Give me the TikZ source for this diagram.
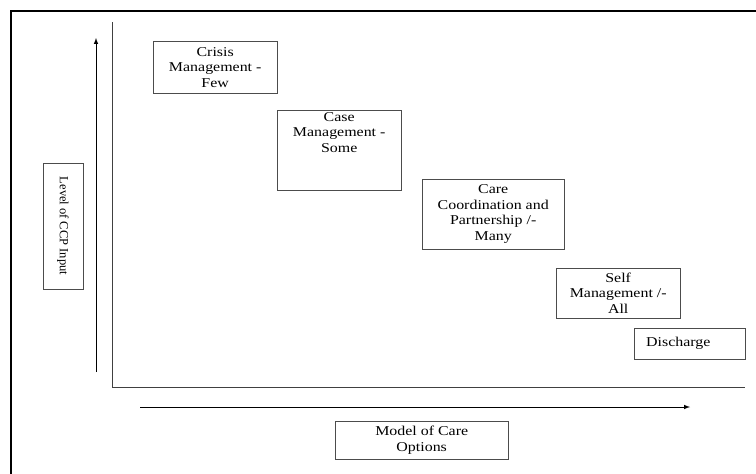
\documentclass[tikz,border=0pt]{standalone}
\usepackage{fontspec}
\setmainfont[FakeStretch=1.18]{Liberation Serif}
\newfontfamily\axisfont{Liberation Serif}

\begin{document}
\begin{tikzpicture}
  [x=1pt,y=-1pt,every node/.style={draw=black!70,align=center,anchor=north west,inner sep=2pt,font=\fontsize{13.5}{15.5}\selectfont}]
  \useasboundingbox (0,0) rectangle (756,474);
  \draw[line width=2.8pt] (11,474) -- (11,11) -- (756,11);

  \node[minimum width=124pt,minimum height=52pt] (crisis) at (153,41) {Crisis\\Management -\\Few};
  \node[minimum width=124pt,minimum height=80pt,text depth=36pt] (case) at (277,110) {Case\\Management -\\Some};
  \node[minimum width=142pt,minimum height=70pt] (care) at (422,179) {Care\\Coordination and\\Partnership /-\\Many};
  \node[minimum width=124pt,minimum height=50pt] (self) at (556,268) {Self\\Management /-\\All};
  \node[text width=87pt,align=left,inner xsep=12pt,minimum height=31pt] (discharge) at (634,328) {Discharge};
  \node[minimum width=173pt,minimum height=38pt] (model) at (335,421) {Model of Care\\Options};
  \node[rotate=-90,anchor=center,minimum width=126pt,minimum height=40pt,font=\axisfont\fontsize{12.5}{14}\selectfont] (ccp) at (63,226) {Level of CCP Input};

  \coordinate (ybot) at (96,372);
  \coordinate (ytop) at (96,38);
  \coordinate (xleft) at (140,407);
  \coordinate (xright) at (690,407);
  \coordinate (corner) at (112,387);
      \draw[black!75] (112,22) -- (corner) -- (745,387);
  \foreach \from/\to in {ybot/ytop,xleft/xright}
    \draw[-latex,line width=1pt] (\from) -- (\to);
\end{tikzpicture}
\end{document}
